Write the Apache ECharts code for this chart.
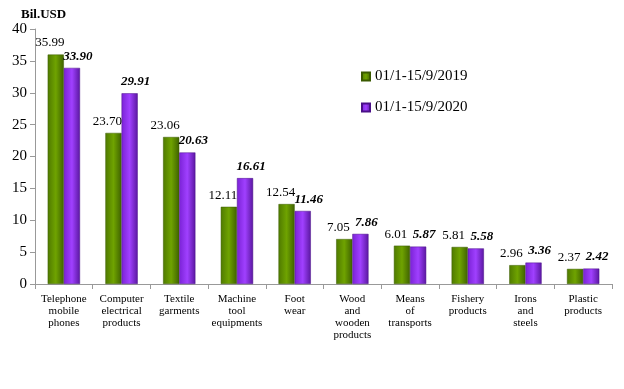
<!DOCTYPE html>
<html><head><meta charset="utf-8">
<script src="https://cdn.jsdelivr.net/npm/echarts@6/dist/echarts.min.js"></script>
<style>html,body{margin:0;padding:0;background:#fff}#c{width:624px;height:389px}</style>
</head><body><div id="c"></div>
<script>
var categories = ['Telephone\nmobile\nphones','Computer\nelectrical\nproducts','Textile\ngarments','Machine\ntool\nequipments','Foot\nwear','Wood\nand\nwooden\nproducts','Means\nof\ntransports','Fishery\nproducts','Irons\nand\nsteels','Plastic\nproducts'];
var series2019 = [35.99,23.70,23.06,12.11,12.54,7.05,6.01,5.81,2.96,2.37];
var series2020 = [33.90,29.91,20.63,16.61,11.46,7.86,5.87,5.58,3.36,2.42];
var name2019 = '01/1-15/9/2019';
var name2020 = '01/1-15/9/2020';
var yTicks = [0,5,10,15,20,25,30,35,40];

var F = '"Liberation Serif","Times New Roman",serif';
function grad(a,b,c){return new echarts.graphic.LinearGradient(0,0,1,0,[{offset:0,color:a},{offset:0.5,color:b},{offset:1,color:c}]);}
var chart = echarts.init(document.getElementById('c'));
chart.setOption({
  animation:false,
  textStyle:{fontFamily:F},
  title:{text:'Bil.USD',left:16,top:3,textStyle:{fontFamily:F,fontWeight:'bold',fontSize:13,color:'#000'}},
  legend:{orient:'vertical',left:356,top:64,itemGap:16,itemWidth:8,itemHeight:8,icon:'rect',
    textStyle:{fontFamily:F,fontSize:15,color:'#000'},data:[name2019,name2020]},
  grid:{left:35,right:12,top:29,bottom:105},
  xAxis:{type:'category',data:categories,
    axisLine:{lineStyle:{color:'#999'}},
    axisTick:{show:true,alignWithLabel:false,lineStyle:{color:'#999'}},
    axisLabel:{interval:0,color:'#000',fontFamily:F,fontSize:11,lineHeight:12,margin:9}},
  yAxis:{type:'value',min:0,max:40,interval:5,
    axisLine:{show:true,lineStyle:{color:'#999'}},
    axisTick:{show:true,lineStyle:{color:'#999'}},
    splitLine:{show:false},
    axisLabel:{color:'#000',fontFamily:F,fontSize:15,margin:8,
      formatter:function(v){return yTicks.indexOf(v)>=0?String(v):'';}}},
  series:[
    {name:name2019,type:'bar',data:series2019,barGap:'0%',barCategoryGap:'44%',
     itemStyle:{color:grad('#4f7a00','#6fa300','#3f6200'),borderColor:'#3a5a00',borderWidth:0.5},
     label:{show:true,position:'top',distance:5,offset:[-6,0],color:'#000',fontFamily:F,fontSize:13,
       formatter:function(p){return p.value.toFixed(2);}}},
    {name:name2020,type:'bar',data:series2020,
     itemStyle:{color:grad('#7a22d6','#a040ff','#5a17a0'),borderColor:'#4a1088',borderWidth:0.5},
     label:{show:true,position:'top',distance:5,offset:[6,0],color:'#000',fontFamily:F,fontSize:13,fontWeight:'bold',fontStyle:'italic',
       formatter:function(p){return p.value.toFixed(2);}}}
  ]
});
</script></body></html>
